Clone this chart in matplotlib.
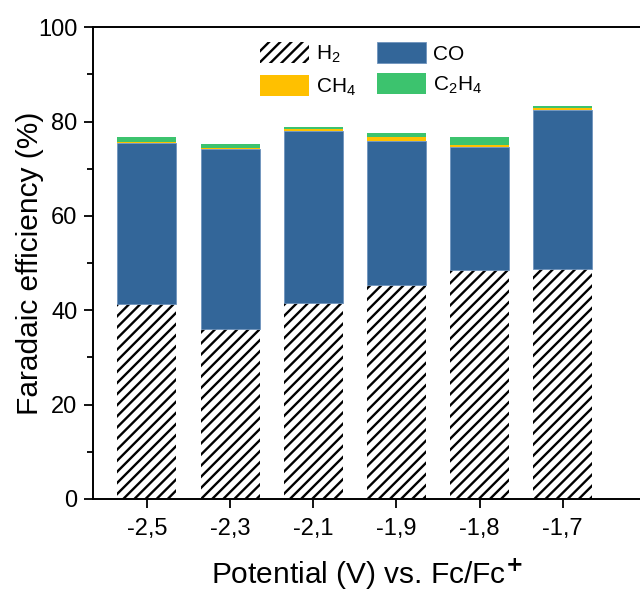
import numpy as np
import matplotlib
matplotlib.use("Agg")
import matplotlib.pyplot as plt
from matplotlib.ticker import MultipleLocator

# data (Faradaic efficiency, %)
potentials = ["-2,5", "-2,3", "-2,1", "-1,9", "-1,8", "-1,7"]
fe_h2 = [41.4, 36.0, 41.6, 45.3, 48.5, 48.7]
fe_co = [34.0, 38.1, 36.4, 30.5, 26.1, 33.8]
fe_ch4 = [0.3, 0.3, 0.4, 1.0, 0.5, 0.4]
fe_c2h4 = [1.1, 0.9, 0.5, 0.7, 1.7, 0.4]

plt.rcParams['font.family'] = ['Liberation Sans', 'DejaVu Sans']
plt.rcParams['hatch.linewidth'] = 1.7
plt.rcParams['mathtext.fontset'] = 'custom'
plt.rcParams['mathtext.rm'] = 'Liberation Sans'

fig = plt.figure(figsize=(6.4, 5.94), dpi=100)
ax = fig.add_axes([0.1458, 0.16, 1.0 - 0.1458, 0.954 - 0.16])

x = np.arange(len(potentials))
w = 0.71
h2 = np.array(fe_h2)
co = np.array(fe_co)
ch4 = np.array(fe_ch4)
c2h4 = np.array(fe_c2h4)

ax.bar(x, h2, w, color='white', edgecolor='black', linewidth=0, hatch='///', label='H$_2$')
ax.bar(x, co, w, bottom=h2, color='#336699', edgecolor='#6f94bd', linewidth=0.6, label='CO')
ax.bar(x, ch4, w, bottom=h2 + co, color='#FFC000', linewidth=0, label='CH$_4$')
ax.bar(x, c2h4, w, bottom=h2 + co + ch4, color='#3CC36E', linewidth=0, label='C$_2$H$_4$')

ax.set_xlim(-0.645, 5.93)
ax.set_ylim(0, 100)
ax.set_xticks(x)
ax.set_xticklabels(potentials)
ax.yaxis.set_major_locator(MultipleLocator(20))
ax.yaxis.set_minor_locator(MultipleLocator(10))
ax.tick_params(axis='both', which='major', direction='out', length=6.5, width=1.3,
               labelsize=17, pad=5)
ax.tick_params(axis='x', which='major', pad=7)
ax.tick_params(axis='y', which='minor', direction='out', length=4, width=1.3)
ax.tick_params(axis='x', which='minor', bottom=False)
for s in ['left', 'bottom', 'top']:
    ax.spines[s].set_linewidth(1.4)
ax.spines['right'].set_visible(False)

ax.set_ylabel('Faradaic efficiency (%)', fontsize=21.5, labelpad=-4)
ax.set_xlabel('Potential (V) vs. Fc/Fc$^{\\mathbf{+}}$', fontsize=21.5, labelpad=12)

handles, labels = ax.get_legend_handles_labels()
# order: H2, CO / CH4, C2H4 across two columns
order = [0, 2, 1, 3]
ax.legend([handles[i] for i in order], [labels[i] for i in order], ncol=2,
          loc='upper left', bbox_to_anchor=(0.305, 0.969), frameon=False,
          fontsize=15, handlelength=2.35, handleheight=1.2, handletextpad=0.35,
          labelspacing=0.45, columnspacing=1.0, borderpad=0, borderaxespad=0)

fig.savefig('out.png', dpi=100)
